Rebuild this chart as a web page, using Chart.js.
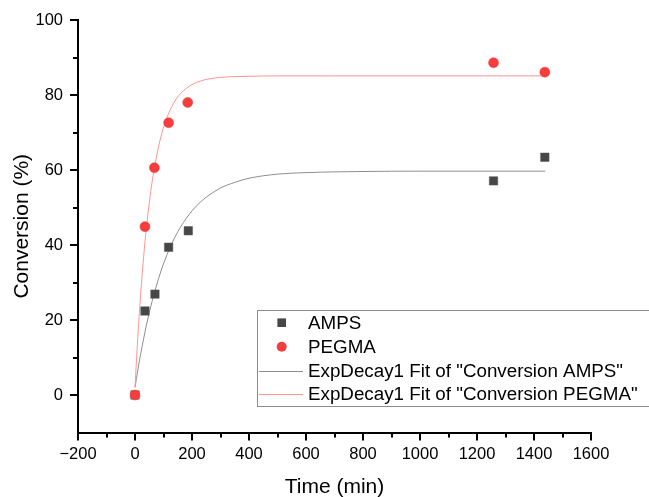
<!DOCTYPE html>
<html>
<head>
<meta charset="utf-8">
<script src="https://cdn.jsdelivr.net/npm/chart.js@4.4.1/dist/chart.umd.min.js"></script>
<style>
  html, body { margin: 0; padding: 0; background: #fff; }
  #wrap { width: 649px; height: 497px; position: relative; }
</style>
</head>
<body>
<div id="wrap"><canvas id="c"></canvas></div>
<script>
// Measured conversions (%) against reaction time (min)
const timeAMPS  = [0, 35, 70, 118, 187, 1258, 1438];
const convAMPS  = [0, 22.4, 26.9, 39.4, 43.8, 57.1, 63.4];
const timePEGMA = [0, 35, 68, 118, 185, 1258, 1438];
const convPEGMA = [0, 44.9, 60.6, 72.6, 78.0, 88.6, 86.1];

// ExpDecay1 fit curves, sampled along the time axis
const fitTime  = [0, 10, 20, 30, 40, 50, 60, 75, 90, 105, 120, 140, 160, 180, 200, 230, 260, 300, 350, 400, 500, 600, 700, 800, 1000, 1200, 1440];
const fitAMPS  = [2.0, 6.7, 11.0, 14.9, 18.6, 21.9, 25.0, 29.1, 32.8, 36.0, 38.8, 42.1, 44.8, 47.1, 49.1, 51.5, 53.3, 55.2, 56.7, 57.8, 58.9, 59.3, 59.5, 59.6, 59.7, 59.7, 59.7];
const fitPEGMA = [2.1, 15.7, 27.1, 36.6, 44.6, 51.2, 56.8, 63.4, 68.6, 72.5, 75.4, 78.4, 80.4, 81.8, 82.8, 83.75, 84.3, 84.7, 84.9, 85.0, 85.1, 85.1, 85.1, 85.1, 85.1, 85.1, 85.1];

// Axis ticks
const xMajorTicks = [-200, 0, 200, 400, 600, 800, 1000, 1200, 1400, 1600];
const xMinorTicks = [-100, 100, 300, 500, 700, 900, 1100, 1300, 1500];
const yMajorTicks = [0, 20, 40, 60, 80, 100];
const yMinorTicks = [10, 30, 50, 70, 90];

const seriesNames = ['AMPS', 'PEGMA', 'ExpDecay1 Fit of "Conversion AMPS"', 'ExpDecay1 Fit of "Conversion PEGMA"'];

const FONT = '"Liberation Sans", Arial, sans-serif';
const pairs = (xs, ys) => xs.map((x, i) => ({ x: x, y: ys[i] }));

// Shorter minor tick marks on both axes
const minorTicks = {
  id: 'minorTicks',
  afterDraw(chart) {
    const { ctx, scales: { x, y } } = chart;
    ctx.save();
    ctx.strokeStyle = '#000';
    ctx.lineWidth = 2;
    ctx.beginPath();
    const yb = y.getPixelForValue(-10);
    xMinorTicks.forEach(v => {
      const px = Math.round(x.getPixelForValue(v));
      ctx.moveTo(px, yb); ctx.lineTo(px, yb + 5);
    });
    const xl = x.getPixelForValue(-200);
    yMinorTicks.forEach(v => {
      const py = Math.round(y.getPixelForValue(v));
      ctx.moveTo(xl, py); ctx.lineTo(xl - 5, py);
    });
    ctx.stroke();
    ctx.restore();
  }
};

// Boxed legend inside the plot, lower right
const boxLegend = {
  id: 'boxLegend',
  afterDraw(chart) {
    const ctx = chart.ctx;
    const ds = chart.data.datasets;
    const left = 257, top = 310, right = 660, bottom = 407;
    ctx.save();
    ctx.fillStyle = '#fff';
    ctx.fillRect(left, top, right - left, bottom - top);
    ctx.strokeStyle = '#8c8c8c';
    ctx.lineWidth = 1;
    ctx.strokeRect(left + 0.5, top + 0.5, right - left, bottom - top - 1);
    const rowY = [322.7, 346.7, 370.7, 394.3];
    ctx.font = '18.8px ' + FONT;
    ctx.textBaseline = 'middle';
    ctx.textAlign = 'left';
    ds.forEach((d, i) => {
      const cy = rowY[i];
      if (d.showLine) {
        ctx.strokeStyle = d.borderColor;
        ctx.lineWidth = 1;
        ctx.beginPath();
        ctx.moveTo(259, Math.round(cy) + 0.5);
        ctx.lineTo(303, Math.round(cy) + 0.5);
        ctx.stroke();
      } else {
        ctx.fillStyle = d.backgroundColor;
        ctx.beginPath();
        if (d.pointStyle === 'rect') {
          ctx.rect(281.7 - 4.3, cy - 4.3, 8.6, 8.6);
        } else {
          ctx.arc(281.7, cy, 5, 0, Math.PI * 2);
        }
        ctx.fill();
      }
      ctx.fillStyle = '#000';
      ctx.fillText(d.label, 308, cy + 1);
    });
    ctx.restore();
  }
};

new Chart(document.getElementById('c'), {
  type: 'scatter',
  data: {
    datasets: [
      {
        label: seriesNames[0],
        data: pairs(timeAMPS, convAMPS),
        pointStyle: 'rect', pointRadius: 6, pointHoverRadius: 6,
        backgroundColor: '#474747', borderColor: '#5a5a5a', borderWidth: 0.5,
        order: 1
      },
      {
        label: seriesNames[1],
        data: pairs(timePEGMA, convPEGMA),
        pointStyle: 'circle', pointRadius: 5, pointHoverRadius: 5,
        backgroundColor: '#f53d3d', borderColor: '#f53d3d', borderWidth: 0.5,
        order: 0
      },
      {
        label: seriesNames[2],
        data: pairs(fitTime, fitAMPS),
        showLine: true, pointRadius: 0, borderWidth: 1,
        borderColor: '#8f8f8f', backgroundColor: '#8f8f8f',
        cubicInterpolationMode: 'monotone',
        order: 3
      },
      {
        label: seriesNames[3],
        data: pairs(fitTime, fitPEGMA),
        showLine: true, pointRadius: 0, borderWidth: 1,
        borderColor: '#ff9494', backgroundColor: '#ff9494',
        cubicInterpolationMode: 'monotone',
        order: 2
      }
    ]
  },
  options: {
    responsive: true,
    maintainAspectRatio: false,
    animation: false,
    events: [],
    layout: { padding: { left: 0, right: 58, top: 20, bottom: 0 } },
    plugins: { legend: { display: false }, tooltip: { enabled: false } },
    scales: {
      x: {
        type: 'linear', min: -200, max: 1600,
        afterBuildTicks: s => { s.ticks = xMajorTicks.map(v => ({ value: v })); },
        afterFit: s => { s.height = 64.5; },
        border: { display: true, color: '#000', width: 2 },
        grid: { drawOnChartArea: false, drawTicks: true, tickLength: 8, color: '#000', lineWidth: 2 },
        ticks: {
          color: '#000', padding: 4, maxRotation: 0,
          font: { family: FONT, size: 16.5 },
          callback: v => (v < 0 ? '\u2212' + Math.abs(v) : String(v))
        },
        title: {
          display: true, text: 'Time (min)', color: '#000',
          font: { family: FONT, size: 21, lineHeight: 1 },
          padding: { top: 0, bottom: -1 }
        }
      },
      y: {
        type: 'linear', min: -10, max: 100,
        afterBuildTicks: s => { s.ticks = yMajorTicks.map(v => ({ value: v })); },
        afterFit: s => { s.width = 78; },
        border: { display: true, color: '#000', width: 2 },
        grid: { drawOnChartArea: false, drawTicks: true, tickLength: 8, color: '#000', lineWidth: 2 },
        ticks: {
          color: '#000', padding: 7,
          font: { family: FONT, size: 16.5 }
        },
        title: {
          display: true, text: 'Conversion (%)', color: '#000',
          font: { family: FONT, size: 21, lineHeight: 1 },
          padding: { top: 12, bottom: 0 }
        }
      }
    }
  },
  plugins: [minorTicks, boxLegend]
});
</script>
</body>
</html>
